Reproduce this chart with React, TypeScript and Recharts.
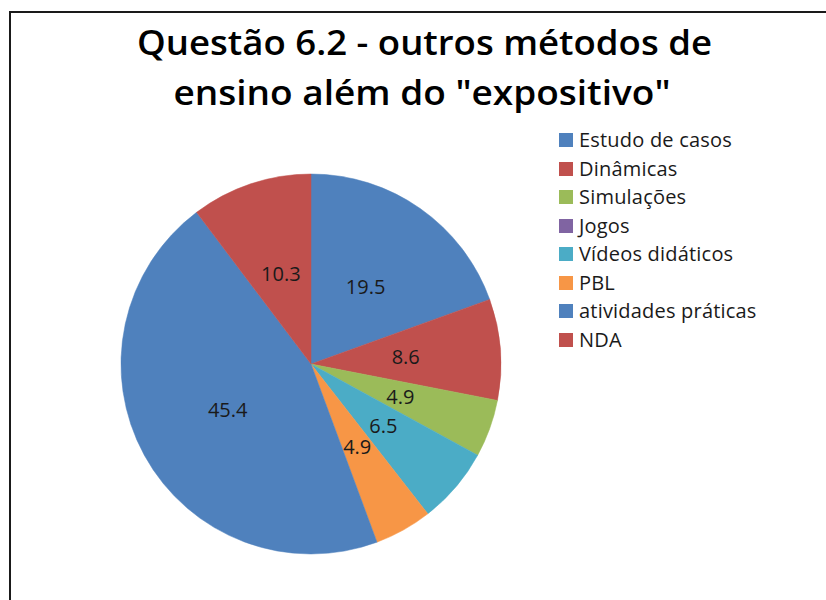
import React from "react";
import { PieChart, Pie, Cell, Legend } from "recharts";

const categories = [
  "Estudo de casos",
  "Dinâmicas",
  "Simulações",
  "Jogos",
  "Vídeos didáticos",
  "PBL",
  "atividades práticas",
  "NDA",
];
const values = [19.5, 8.6, 4.9, 0, 6.5, 4.9, 45.4, 10.3];
const colors = ["#4F81BD", "#C0504D", "#9BBB59", "#8064A2", "#4BACC6", "#F79646", "#4F81BD", "#C0504D"];
const titleLines = ["Questão 6.2 - outros métodos de", "ensino além do \"expositivo\""];

const data = categories.map((name, i) => ({ name, value: values[i] }));

const RADIAN = Math.PI / 180;
const FONT = "'Open Sans', 'Noto Sans', sans-serif";

const renderLabel = (props: any) => {
  const { cx, cy, midAngle, outerRadius, value } = props;
  if (!value) return null;
  const r = outerRadius * 0.5;
  const x = cx + r * Math.cos(-midAngle * RADIAN);
  const y = cy + r * Math.sin(-midAngle * RADIAN);
  return (
    <text
      x={x}
      y={y}
      textAnchor="middle"
      dominantBaseline="central"
      fill="#1a1a1a"
      style={{ fontFamily: FONT, fontSize: 20 }}
    >
      {String(value)}
    </text>
  );
};

const renderLegend = () => (
  <div style={{ fontFamily: FONT, fontSize: 20, color: "#1a1a1a" }}>
    {categories.map((c, i) => (
      <div key={c} style={{ display: "flex", alignItems: "center", height: 28.5 }}>
        <span
          style={{
            display: "inline-block",
            width: 14,
            height: 14,
            background: colors[i],
            marginRight: 6,
          }}
        />
        <span style={{ lineHeight: "22px", whiteSpace: "nowrap", letterSpacing: 0.2 }}>{c}</span>
      </div>
    ))}
  </div>
);

export default function App() {
  return (
    <div
      style={{
        position: "absolute",
        left: 0,
        top: 0,
        width: 826,
        height: 600,
        overflow: "hidden",
        background: "#fff",
      }}
    >
      <div
        style={{
          position: "absolute",
          left: 9,
          top: 11,
          width: 900,
          height: 700,
          borderLeft: "2px solid #1a1a1a",
          borderTop: "2px solid #1a1a1a",
        }}
      />
      <svg
        width={826}
        height={130}
        style={{ position: "absolute", left: 0, top: 0 }}
      >
        <text
          x={424.5}
          y={55}
          textAnchor="middle"
          textLength={575}
          lengthAdjust="spacingAndGlyphs"
          style={{ fontFamily: FONT, fontSize: 34, fontWeight: 600 }}
          fill="#000"
        >
          {titleLines[0]}
        </text>
        <text
          x={422}
          y={105}
          textAnchor="middle"
          textLength={497}
          lengthAdjust="spacingAndGlyphs"
          style={{ fontFamily: FONT, fontSize: 34, fontWeight: 600 }}
          fill="#000"
        >
          {titleLines[1]}
        </text>
      </svg>
      <div style={{ position: "absolute", left: 0, top: 0 }}>
        <PieChart width={826} height={600} margin={{ top: 0, right: 0, bottom: 0, left: 0 }}>
          <Pie
            data={data}
            dataKey="value"
            nameKey="name"
            cx={311}
            cy={364}
            outerRadius={190}
            startAngle={90}
            endAngle={-270}
            isAnimationActive={false}
            label={renderLabel}
            labelLine={false}
          >
            {data.map((d, i) => (
              <Cell
                key={d.name}
                fill={colors[i]}
                stroke={d.value === 0 ? "none" : colors[i]}
                strokeWidth={0.5}
              />
            ))}
          </Pie>
          <Legend
            content={renderLegend}
            wrapperStyle={{ position: "absolute", left: 559, top: 126, width: 260 }}
          />
        </PieChart>
      </div>
    </div>
  );
}
